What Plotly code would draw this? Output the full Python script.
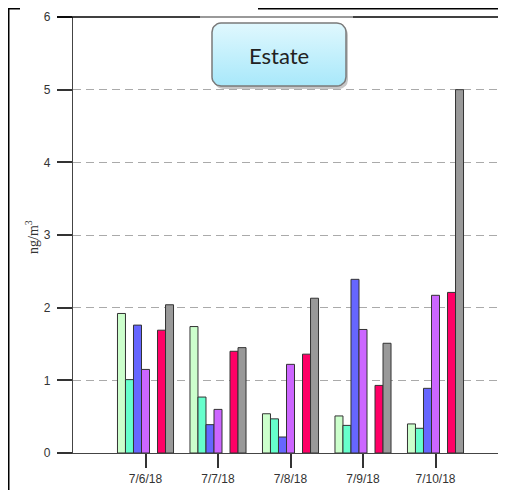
import numpy as np
import plotly.graph_objects as go

categories = ["7/6/18", "7/7/18", "7/8/18", "7/9/18", "7/10/18"]
series_names = ["S1", "S2", "S3", "S4", "S5", "S6", "S7"]
s1 = [1.92, 1.74, 0.54, 0.51, 0.40]
s2 = [1.01, 0.77, 0.47, 0.38, 0.34]
s3 = [1.76, 0.39, 0.22, 2.39, 0.89]
s4 = [1.15, 0.60, 1.22, 1.70, 2.17]
s5 = [None, None, None, None, None]
s6 = [1.69, 1.40, 1.36, 0.93, 2.21]
s7 = [2.04, 1.45, 2.13, 1.51, 5.00]
series_values = [s1, s2, s3, s4, s5, s6, s7]
colors = ["#ccffcc", "#66ffcc", "#6666ff", "#cc66ff", "#ffffff", "#ff0066", "#999999"]
y_ticks = [0, 1, 2, 3, 4, 5, 6]
title_text = "Estate"

W, H = 506, 490
OFF = 8  # page body margin: convert target-image pixels to paper pixels


def px(v):
    return v - OFF


fig = go.Figure()
xpos = list(range(len(categories)))
for name, vals, col in zip(series_names, series_values, colors):
    fig.add_trace(go.Bar(x=xpos, y=vals, name=name,
                         marker=dict(color=col, line=dict(color="#333333", width=1)),
                         showlegend=False, xaxis="x", yaxis="y"))


def rounded(x0, y0, x1, y1, r, n=8):
    pts = []
    corners = [(x1 - r, y0 + r, -90, 0), (x1 - r, y1 - r, 0, 90),
               (x0 + r, y1 - r, 90, 180), (x0 + r, y0 + r, 180, 270)]
    for cx, cy, a0, a1 in corners:
        for a in np.linspace(np.radians(a0), np.radians(a1), n):
            pts.append((cx + r * np.cos(a), cy + r * np.sin(a)))
    pts.append(pts[0])
    return [p[0] for p in pts], [p[1] for p in pts]


bx0, by0, bx1, by1 = px(212), px(23), px(346), px(86)
sx, sy = rounded(bx0 + 2, by0 + 3, bx1 + 2, by1 + 3, 9)
fig.add_trace(go.Scatter(x=sx, y=sy, mode="lines", fill="toself", fillcolor="rgba(0,0,0,0.22)",
                         line=dict(width=0), hoverinfo="skip", showlegend=False, xaxis="x2", yaxis="y2"))
rx, ry = rounded(bx0, by0, bx1, by1, 9)
fig.add_trace(go.Scatter(x=rx, y=ry, mode="lines", fill="toself",
                         fillgradient=dict(type="vertical", colorscale=[[0, "#a8e8fa"], [1, "#e0f8fe"]]),
                         line=dict(width=1.5, color="#7a7a7a"), hoverinfo="skip", showlegend=False,
                         xaxis="x2", yaxis="y2"))

x_left = px(73)
y_top, y_bot = px(17), px(453)
cat_w = 72.5
xr0 = -1
xr1 = xr0 + (W - x_left) / cat_w

tickfont = dict(family="Liberation Sans, Arial", size=12, color="#333333")
fig.update_layout(
    width=W, height=H,
    margin=dict(l=0, r=0, t=0, b=0, autoexpand=False),
    paper_bgcolor="white", plot_bgcolor="rgba(0,0,0,0)",
    barmode="group", bargap=0.227, bargroupgap=0,
    xaxis=dict(domain=[x_left / W, 1], range=[xr0, xr1], tickvals=xpos, ticktext=categories,
               ticks="outside", ticklen=14, tickcolor="#333333", tickwidth=1.5,
               showline=True, linecolor="#444444", linewidth=1.3, showgrid=False, zeroline=False,
               tickfont=tickfont, anchor="y", automargin=False),
    yaxis=dict(domain=[(H - y_bot) / H, (H - y_top) / H], range=[0, 6], tickvals=y_ticks,
               ticks="outside", ticklen=15, tickcolor="#333333", tickwidth=1.5,
               showline=True, linecolor="#444444", linewidth=1.3, showgrid=True, gridcolor="#aaaaaa",
               griddash="8px,5px", gridwidth=1, zeroline=False, tickfont=tickfont, anchor="x",
               ticklabelstandoff=4, automargin=False),
    xaxis2=dict(domain=[0, 1], range=[0, W], visible=False, anchor="y2", fixedrange=True, automargin=False),
    yaxis2=dict(domain=[0, 1], range=[H, 0], visible=False, anchor="x2", fixedrange=True, automargin=False),
)


def seg(x0, y0, x1, y1, color="black", width=1.5):
    fig.add_shape(type="line", xref="x2", yref="y2", x0=x0, y0=y0, x1=x1, y1=y1,
                  line=dict(color=color, width=width), layer="above")


# frame lines (target-image pixels shifted into paper pixels, clamped at the paper edge)
seg(0.75, 0.75, 0.75, H)
seg(0, 0.75, px(20), 0.75)
seg(px(258), 0.75, W, 0.75)
seg(px(57), y_top, px(200), y_top, "black", 1.5)
seg(px(200), y_top, px(353), y_top, "#777777", 1.5)
seg(px(353), y_top, W, y_top, "black", 1.5)

fig.add_annotation(x=(bx0 + bx1) / 2, y=(by0 + by1) / 2 + 1, xref="x2", yref="y2", text=title_text,
                   showarrow=False, font=dict(family="Lato, Open Sans", size=22, color="#222222"))
fig.add_annotation(x=px(32), y=px(237), xref="x2", yref="y2", text="ng/m<sup>3</sup>", textangle=-90,
                   showarrow=False, font=dict(family="Liberation Serif, Times New Roman", size=14, color="#333333"))

fig.write_html("out.html")
